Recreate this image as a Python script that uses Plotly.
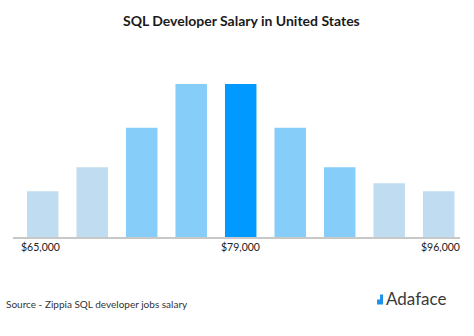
import plotly.graph_objects as go

categories = ["$65,000", "bin2", "bin3", "bin4", "$79,000", "bin6", "bin7", "bin8", "$96,000"]
values = [29.9, 45.6, 71.4, 100, 100, 71.4, 45.6, 35.2, 29.9]
bar_colors = ["#C0DCF1", "#C0DCF1", "#87CDFA", "#87CDFA", "#0099FF",
              "#87CDFA", "#87CDFA", "#C0DCF1", "#C0DCF1"]
tick_labels = ["$65,000", "$79,000", "$96,000"]
tick_index = [0, 4, 8]

W, H = 474, 336
ML, MR, MT, MB = 12.7, 14, 84, 99.3
pw, ph = W - ML - MR, H - MT - MB

def px(x):
    return (x - ML) / pw

def py(y):
    return (H - MB - y) / ph

xs = list(range(len(categories)))
fig = go.Figure(go.Bar(x=xs, y=values, marker=dict(color=bar_colors, line=dict(width=0)),
                       width=0.636, hoverinfo="skip"))

fig.update_layout(
    width=W, height=H,
    margin=dict(l=ML, r=MR, t=MT, b=MB),
    plot_bgcolor="white", paper_bgcolor="white",
    showlegend=False,
    xaxis=dict(range=[-0.6, 8.43], showgrid=False, zeroline=False, showticklabels=False,
               showline=True, linecolor="#C8C8C8", linewidth=1.5, ticks=""),
    yaxis=dict(range=[0, 100], showgrid=False, zeroline=False, showticklabels=False,
               showline=False, ticks=""),
    font=dict(family="Lato, sans-serif", color="#222"),
)

anns = []
anns.append(dict(text="<b>SQL Developer Salary in United States</b>", xref="paper", yref="paper",
                 x=px(241), y=py(21), xanchor="center", yanchor="middle", showarrow=False,
                 font=dict(size=14, color="#1a1a1a", family="Lato, sans-serif")))
anchors = ["left", "center", "right"]
shifts = [19, 240, 462]
for lab, idx, anc, sx in zip(tick_labels, tick_index, anchors, shifts):
    anns.append(dict(text=lab, xref="paper", yref="paper", x=px(sx), y=py(247),
                     xanchor=anc, yanchor="middle", showarrow=False,
                     font=dict(size=10.5, color="#222", family="Lato, sans-serif")))
anns.append(dict(text="Source - Zippia SQL developer jobs salary", xref="paper", yref="paper",
                 x=px(4), y=py(304), xanchor="left", yanchor="middle", showarrow=False,
                 font=dict(size=10, color="#333", family="Lato, sans-serif")))
anns.append(dict(text="Adaface", xref="paper", yref="paper",
                 x=px(384), y=py(298), xanchor="left", yanchor="middle", showarrow=False,
                 font=dict(size=17, color="#3a3a3a", family="Lato, sans-serif")))
fig.update_layout(annotations=anns)

# logo icon (ascending steps)
path = "M {x0},{y0} L {x0},{y1} L {x1},{y1} L {x1},{y2} L {x2},{y2} L {x2},{y0} Z".format(
    x0=px(377), x1=px(380), x2=px(383), y0=py(304), y1=py(299), y2=py(294))
fig.add_shape(type="path", path=path, xref="paper", yref="paper",
              fillcolor="#1E90E8", line=dict(width=0))

fig.write_html("out.html")
